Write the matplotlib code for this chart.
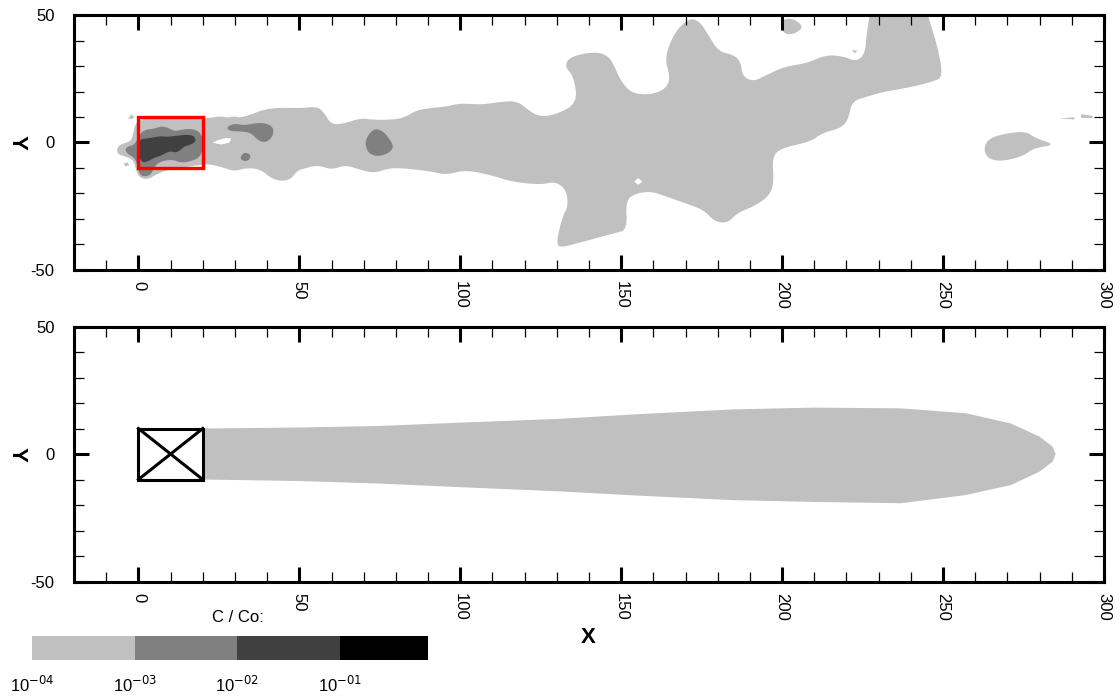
import numpy as np
import matplotlib
matplotlib.use('Agg')
import matplotlib.pyplot as plt
from matplotlib import rcParams
from matplotlib.colors import ListedColormap, BoundaryNorm
from matplotlib.colorbar import ColorbarBase
from matplotlib.patches import Rectangle
from matplotlib.ticker import MultipleLocator, FixedLocator

rcParams['font.family'] = ['Liberation Sans', 'DejaVu Sans']
rcParams['axes.unicode_minus'] = False

# contour level colours (C/Co >= 1e-4, 1e-3, 1e-2, 1e-1)
level_colors = ['#c0c0c0', '#808080', '#404040', '#000000']
cbar_levels = [1e-4, 1e-3, 1e-2, 1e-1, 0.72]
cbar_labels = ['10$^{-04}$', '10$^{-03}$', '10$^{-02}$', '10$^{-01}$']

# source area (x0, y0, width, height)
source = (0, -10, 20, 20)

# ---- measured field: contour outlines (x, y) ----
plume_1e4 = [(-6.8, -2.7), (-5.8, -0.8), (-2.2, 0.5), (-1.6, 3.8), (-1.0, 7.0), (0, 8.5), (2, 9.5), (10, 9.8),
             (20, 9.5), (22.5, 9.7), (25.6, 10.3), (27.7, 9.7), (29.7, 10.3), (31.8, 9.7), (34.9, 11), (39, 12.9),
             (43.1, 13.6), (47.2, 13.6), (51.1, 13.5), (55.6, 14.1), (57.8, 11.5), (60, 6.9), (64.4, 7.6),
             (68.9, 9.5), (73.3, 8.9), (77.8, 8.9), (82.2, 9.5), (86.7, 12.8), (91.1, 13.5), (95.6, 14.1),
             (100, 15.4), (106.7, 14.8), (113.3, 16.1), (117.8, 16.1), (121.1, 12.8), (124.4, 10.2),
             (129.5, 10.8), (136.4, 15.4), (135.3, 25.9), (132.4, 29.8), (134.1, 33.7), (142.2, 35.7),
             (146.2, 33.7), (147.9, 29.8), (149.7, 24.6), (153.1, 19.3), (159.4, 18.7), (164.1, 21.3),
             (165.2, 25.9), (163.5, 33.1), (166.4, 42.9), (171, 48.8), (174.4, 47.5), (176.7, 42.9),
             (180.2, 35.7), (184.8, 34.4), (187.1, 31.8), (187.7, 25.9), (191.1, 23.9), (195.2, 26.5),
             (200.9, 29.8), (207.8, 31.1), (213.6, 34.4), (219.4, 33.7), (222.8, 31.8), (225.7, 34.4),
             (226.3, 42.9), (227.2, 50), (227.6, 54), (245, 54), (245.2, 50), (248.3, 37.6), (250, 25.9),
             (247.1, 23.9), (238.4, 21.3),
             (232, 20), (226.3, 18), (221.7, 16.1), (220.5, 8.9), (218.2, 5.6), (212.4, 3.7), (209, 0.4),
             (199.8, -2.2), (196.9, -5.5), (197.5, -16), (195.8, -21.2), (191.1, -25.1), (186, -27.7),
             (183.1, -31.6), (179, -31), (175.6, -26.4), (169.8, -23.8), (164.1, -21.2), (159.4, -19.2),
             (154.8, -19.9), (151.4, -22.5), (151.9, -34.2), (147.9, -35.6), (142.2, -37.5), (136.4, -39.5),
             (130.6, -41.4), (130, -38.2), (131.8, -29), (133.5, -25.1), (133, -18.6), (129.5, -15.3),
             (124.9, -16.6), (115.6, -15.3), (111, -13.3), (102, -10.7), (95.6, -12.7), (91, -11.4),
             (86.7, -10.7), (82.2, -10.1), (77.8, -10.1), (73.3, -12), (68.9, -10.7), (64.4, -8.8),
             (60, -10.7), (55.6, -8.8), (50.3, -10.6), (49.3, -11.3), (47.2, -14.5), (44.1, -15.2),
             (41, -13.8), (38, -10.6), (33.9, -9.9), (29.7, -11.3), (26.6, -9.9), (22.5, -8.6), (20, -8.6),
             (9.2, -10.6), (5.6, -12.5), (3, -14.5), (0.4, -13.8), (-0.6, -11.3), (-1.6, -6.7), (-4.2, -5.4),
             (-6.3, -4.7)]
blob_top_1e4 = [(199.8, 48.1), (203.2, 48.8), (206.7, 45.5), (204.4, 42.9), (201.5, 42.2), (199.8, 44.2)]
blob_right_1e4 = [(262.6, -2.2), (264.3, 1.7), (270, 3.7), (275.8, 4.3), (278.7, 1.7), (285, -0.9),
                  (278.1, -2.2), (274.7, -5.5), (267.7, -7.5), (263.7, -6.1)]
specks_1e4 = [
    [(286.2, 9.5), (290.8, 9.9), (290.8, 9.0)],
    [(292.9, 11.1), (296.5, 10.4), (296.5, 9.6), (292.9, 9.6)],
    [(221.7, 36.3), (223.4, 36.0), (222.6, 35.0)],
    [(-3.2, 9.4), (-2.2, 11), (-1.2, 10), (-2, 9.2)],
    [(-4.6, -8.2), (-3.4, -7.8), (-2.8, -8.8), (-4, -9.4)],
]
holes_1e4 = [
    [(23.1, -0.1), (24.6, 0.9), (27.2, 1.8), (28.9, 1.5), (28.2, -0.1), (25.6, -0.8)],
    [(154, -15.3), (155.3, -14), (156.6, -15.3), (155.3, -16.6)],
]
core_1e3 = [(-4.2, -2.7), (-3.2, -1.5), (-1.1, -0.8), (0.7, 3.8), (2.5, 5.1), (5, 5.4), (7.1, 6.4), (9.2, 5.8),
            (11.2, 4.4), (13.8, 5.1), (16.4, 5.4), (18.9, 4.4), (20.5, 0.5), (20, -2.7), (18.9, -6),
            (16.4, -7.3), (13.3, -8), (10.7, -6.7), (7.1, -7.3), (5, -9.3), (4, -12.5), (1.9, -13.5),
            (0.4, -12.5), (-0.3, -9.3), (-1.1, -6), (-3.2, -4.7)]
blob_a_1e3 = [(27.2, 5.8), (29.7, 7.5), (32.8, 6.7), (35.9, 7.5), (39, 7.7), (41.6, 6.4), (42.1, 3.8),
              (41, 1.2), (39, -0.1), (36.9, 1.2), (34.9, 3.8), (31.8, 4.4), (28.7, 4.4)]
blob_b_1e3 = [(31.8, -5.4), (32.8, -4), (34.4, -4.3), (34.9, -5.6), (34.2, -7.1), (32.6, -7.3), (31.8, -6.4)]
blob_c_1e3 = [(70.6, 1.0), (72.2, 4.3), (73.9, 5.4), (76.1, 4.3), (77.8, 1.7), (79.4, -1.6), (77.8, -4.2),
              (74.4, -5.5), (71.7, -4.4), (70.6, -1.6)]
core_1e2 = [(0, 1.2), (4, 1.8), (6.6, 2.5), (9.2, 2.2), (12.2, 2.7), (15.3, 3.1), (17.4, 2.5), (17.9, 0.5),
            (16.4, -0.8), (14.3, -1.5), (13.3, -2.7), (11.7, -4), (10.2, -3.4), (8.6, -4), (7.1, -5.1),
            (5, -6), (3, -7.3), (1.4, -8), (0, -5.4), (0, -1.5)]

# ---- model plume: upper and lower edge of the 1e-4 contour ----
model_x = [20, 50, 75, 100, 130, 155, 185, 210, 237, 257, 271, 280, 284, 285]
model_upper = [10, 10.4, 11, 12.3, 13.75, 15.6, 17.5, 18.2, 17.9, 16, 12, 6.8, 2.9, 0]
model_lower = [-10, -10.6, -11.6, -13, -14.6, -16.3, -18.1, -18.8, -19.3, -16.1, -12.2, -6.9, -3, 0]


def chaikin(pts, n=2):
    # corner cutting so the outlines look like contour lines, not polygons
    p = np.array(pts, dtype=float)
    for _ in range(n):
        q = np.roll(p, -1, axis=0)
        p = np.column_stack([0.75 * p + 0.25 * q, 0.25 * p + 0.75 * q]).reshape(-1, 2)
    return p


def style_axes(ax):
    ax.set_xlim(-20, 300)
    ax.set_ylim(-50, 50)
    ax.xaxis.set_major_locator(MultipleLocator(50))
    ax.xaxis.set_minor_locator(MultipleLocator(10))
    ax.yaxis.set_major_locator(FixedLocator([-50, 0, 50]))
    ax.yaxis.set_minor_locator(MultipleLocator(10))
    ax.tick_params(which='both', direction='in', top=True, right=True, labelsize=12)
    ax.tick_params(which='major', length=10.8, width=2.2)
    ax.tick_params(which='minor', length=7, width=0.9)
    ax.tick_params(axis='x', labelrotation=-90, pad=8)
    ax.tick_params(axis='y', pad=14)
    for sp in ax.spines.values():
        sp.set_linewidth(2.2)
    ax.set_ylabel('Y', fontsize=16, fontweight='bold', rotation=270, labelpad=10, va='center')


def fill_poly(ax, pts, color, z, smooth=True):
    p = chaikin(pts) if smooth else np.array(pts)
    ax.fill(p[:, 0], p[:, 1], color=color, lw=0, zorder=z)


fig = plt.figure(figsize=(11.2, 6.98), dpi=100)

# measured concentrations
ax0 = fig.add_axes([0.0661, 0.6132, 0.9196, 0.3653])
fill_poly(ax0, plume_1e4, level_colors[0], 1)
for pts in [blob_top_1e4, blob_right_1e4]:
    fill_poly(ax0, pts, level_colors[0], 1)
for pts in specks_1e4:
    fill_poly(ax0, pts, level_colors[0], 1, smooth=False)
for pts in holes_1e4:
    fill_poly(ax0, pts, 'white', 2, smooth=False)
for pts in [core_1e3, blob_a_1e3, blob_b_1e3, blob_c_1e3]:
    fill_poly(ax0, pts, level_colors[1], 3)
fill_poly(ax0, core_1e2, level_colors[2], 4)
ax0.add_patch(Rectangle(source[:2], source[2], source[3], fill=False, ec='red', lw=2.4, zorder=5))
style_axes(ax0)

# model result
ax1 = fig.add_axes([0.0661, 0.1669, 0.9196, 0.3653])
mx = np.array(model_x)
ax1.fill(np.concatenate([mx, mx[::-1]]), np.concatenate([model_upper, model_lower[::-1]]),
         color=level_colors[0], lw=0, zorder=1)
x0, y0, w, h = source
ax1.add_patch(Rectangle((x0, y0), w, h, fc='white', ec='black', lw=2.2, zorder=3))
ax1.plot([x0, x0 + w], [y0, y0 + h], color='black', lw=2.2, zorder=4)
ax1.plot([x0, x0 + w], [y0 + h, y0], color='black', lw=2.2, zorder=4)
style_axes(ax1)

fig.text(0.525, 0.086, 'X', fontsize=16, fontweight='bold', ha='center', va='center')

# colour key
cax = fig.add_axes([0.0286, 0.0544, 0.3536, 0.0344])
bounds = np.log10(cbar_levels)
cb = ColorbarBase(cax, cmap=ListedColormap(level_colors), norm=BoundaryNorm(bounds, len(level_colors)),
                  orientation='horizontal', spacing='proportional', ticks=bounds[:-1])
cb.set_ticklabels(cbar_labels)
cb.outline.set_visible(False)
cax.minorticks_off()
cax.tick_params(which='both', length=0, labelsize=12, pad=11)
fig.text(0.2125, 0.115, 'C / Co:', fontsize=12, ha='center', va='center')

fig.savefig('out.png', dpi=100)
